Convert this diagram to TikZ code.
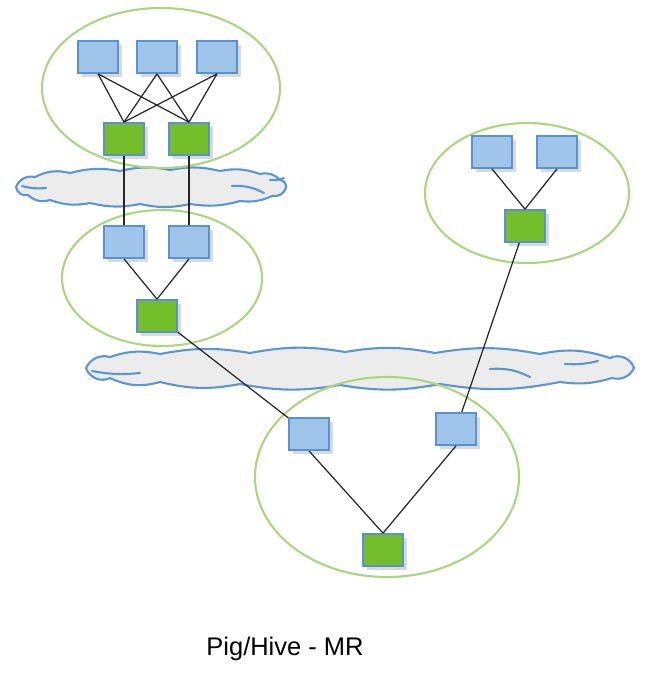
\documentclass[tikz,border=0pt]{standalone}
\usepackage{fontspec}
\setmainfont{Liberation Sans}
\usetikzlibrary{shadows, positioning}
\definecolor{boxblue}{RGB}{158,196,234}
\definecolor{boxedge}{RGB}{88,146,208}
\definecolor{boxgreen}{RGB}{116,190,44}
\definecolor{ringgreen}{RGB}{170,214,128}
\definecolor{cloudedge}{RGB}{92,150,210}
\definecolor{cloudfill}{RGB}{236,236,236}

\begin{document}
\begin{tikzpicture}[
        x=0.02cm, y=-0.02cm,
        % Estilo para las tareas
        task/.style={draw=boxedge, line width=1pt, minimum width=0.8cm, minimum height=0.64cm,
            inner sep=0pt, drop shadow={opacity=0.3, shadow xshift=2pt, shadow yshift=-2pt}},
        map/.style={task, fill=boxblue},
        reduce/.style={task, fill=boxgreen},
        stage/.style={draw=ringgreen, line width=1.2pt},
        net/.style={draw=cloudedge, fill=cloudfill, line width=1.2pt, line join=round},
        curl/.style={draw=cloudedge, line width=1.2pt, line cap=round},
        link/.style={draw=black!85, line width=0.7pt},
    ]
        \useasboundingbox (0,0) rectangle (666,677);

        % 1. Las nubes (red)
        \draw[net] (16,187) to[bend left=40] (35,177) to[bend left=20] (70,173)
            to[bend left=12] (120,171) to[bend left=12] (170,170) to[bend left=12] (220,171)
            to[bend left=15] (260,174) to[bend left=30] (280,180) to[bend left=50] (286,188)
            to[bend left=40] (272,196) to[bend left=15] (240,201) to[bend left=12] (190,204)
            to[bend left=12] (140,204) to[bend left=12] (90,203) to[bend left=15] (50,200)
            to[bend left=30] (28,195) to[bend left=50] cycle;
        \draw[curl] (22,186) to[bend right=10] (46,188);
        \draw[curl] (232,186) to[bend left=15] (264,193);
        \draw[curl] (270,180) to[bend right=10] (284,178);

        \draw[net] (86,368) to[bend left=40] (110,357) to[bend left=15] (160,354)
            to[bend left=10] (250,353) to[bend left=10] (345,352) to[bend left=10] (435,353)
            to[bend left=10] (540,354) to[bend left=15] (610,358) to[bend left=50] (634,368)
            to[bend left=40] (612,378) to[bend left=12] (560,382) to[bend left=10] (440,384)
            to[bend left=10] (340,385) to[bend left=10] (240,384) to[bend left=12] (160,382)
            to[bend left=20] (110,378) to[bend left=50] cycle;
        \draw[curl] (92,371) to[bend right=8] (140,373);
        \draw[curl] (490,369) to[bend left=15] (530,377);
        \draw[curl] (565,364) to[bend right=8] (598,361);

        % 2. Las etapas
        \draw[stage] (161,88) ellipse (119 and 80);
        \draw[stage] (162,278) ellipse (100 and 68);
        \draw[stage] (527,193) ellipse (102 and 70);
        \draw[stage] (387,477) ellipse (132 and 100);

        % 3. Primera etapa
        \node (m1) [map] at (98,57) {};
        \node (m2) [map] at (157,57) {};
        \node (m3) [map] at (217,57) {};
        \node (r1) [reduce] at (124,139) {};
        \node (r2) [reduce] at (189,139) {};

        % Segunda etapa
        \node (m4) [map] at (124,242) {};
        \node (m5) [map] at (189,242) {};
        \node (r3) [reduce] at (157,316) {};

        % Etapa derecha
        \node (m6) [map] at (492,152) {};
        \node (m7) [map] at (557,152) {};
        \node (r4) [reduce] at (525,226) {};

        % Etapa final
        \node (m8) [map] at (309,434) {};
        \node (m9) [map] at (456,429) {};
        \node (r5) [reduce] at (383,550) {};

        % 4. Conexiones
        \foreach \m in {m1,m2,m3}
            \foreach \r in {r1,r2}
                \draw[link] (\m.south) -- (\r.north);
        \draw[link] (r1.south) -- (m4.north);
        \draw[link] (r2.south) -- (m5.north);
        \draw[link] (m4.south) -- (r3.north);
        \draw[link] (m5.south) -- (r3.north);
        \draw[link] (m6.south) -- (r4.north);
        \draw[link] (m7.south) -- (r4.north);
        \draw[link] (r3) -- (m8);
        \draw[link] (r4) -- (m9);
        \draw[link] (m8.south) -- (r5.north);
        \draw[link] (m9.south) -- (r5.north);

        % 5. Titulo
        \node (title) [font=\fontsize{14.5}{17}\selectfont] at (285,649) {Pig/Hive - MR};
    \end{tikzpicture}
\end{document}
